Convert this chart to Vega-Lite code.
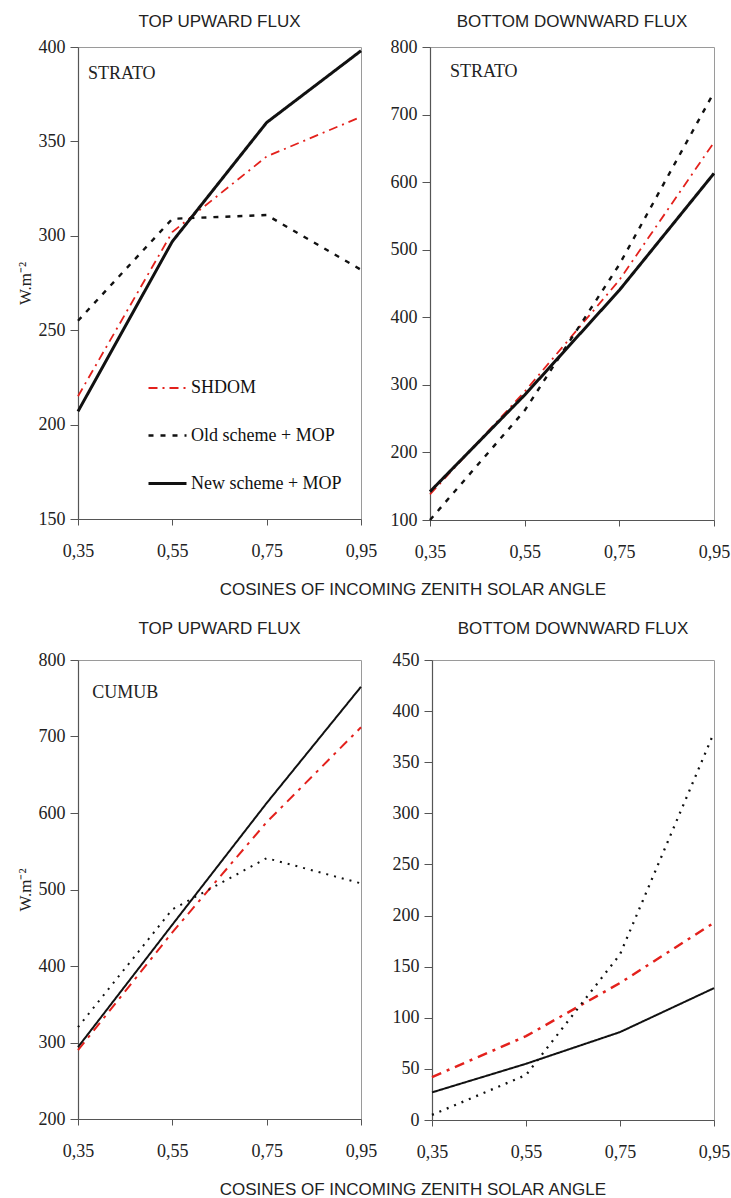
{
  "$schema": "https://vega.github.io/schema/vega-lite/v6.json",
  "background": "white",
  "padding": {"left": 15, "top": 12, "right": 0, "bottom": 0},
  "datasets": {
    "flux": [
      {"panel": "A", "series": "SHDOM", "cos": 0.35, "flux": 215},
      {"panel": "A", "series": "SHDOM", "cos": 0.55, "flux": 302},
      {"panel": "A", "series": "SHDOM", "cos": 0.75, "flux": 342},
      {"panel": "A", "series": "SHDOM", "cos": 0.95, "flux": 363},
      {"panel": "A", "series": "Old scheme + MOP", "cos": 0.35, "flux": 255},
      {"panel": "A", "series": "Old scheme + MOP", "cos": 0.55, "flux": 309},
      {"panel": "A", "series": "Old scheme + MOP", "cos": 0.75, "flux": 311},
      {"panel": "A", "series": "Old scheme + MOP", "cos": 0.95, "flux": 282},
      {"panel": "A", "series": "New scheme + MOP", "cos": 0.35, "flux": 207},
      {"panel": "A", "series": "New scheme + MOP", "cos": 0.55, "flux": 297},
      {"panel": "A", "series": "New scheme + MOP", "cos": 0.75, "flux": 360},
      {"panel": "A", "series": "New scheme + MOP", "cos": 0.95, "flux": 398},
      {"panel": "B", "series": "SHDOM", "cos": 0.35, "flux": 138},
      {"panel": "B", "series": "SHDOM", "cos": 0.55, "flux": 290},
      {"panel": "B", "series": "SHDOM", "cos": 0.75, "flux": 455},
      {"panel": "B", "series": "SHDOM", "cos": 0.95, "flux": 659},
      {"panel": "B", "series": "Old scheme + MOP", "cos": 0.35, "flux": 100},
      {"panel": "B", "series": "Old scheme + MOP", "cos": 0.55, "flux": 262},
      {"panel": "B", "series": "Old scheme + MOP", "cos": 0.75, "flux": 478},
      {"panel": "B", "series": "Old scheme + MOP", "cos": 0.95, "flux": 733},
      {"panel": "B", "series": "New scheme + MOP", "cos": 0.35, "flux": 142},
      {"panel": "B", "series": "New scheme + MOP", "cos": 0.55, "flux": 285},
      {"panel": "B", "series": "New scheme + MOP", "cos": 0.75, "flux": 440},
      {"panel": "B", "series": "New scheme + MOP", "cos": 0.95, "flux": 613},
      {"panel": "C", "series": "SHDOM", "cos": 0.35, "flux": 290},
      {"panel": "C", "series": "SHDOM", "cos": 0.55, "flux": 444},
      {"panel": "C", "series": "SHDOM", "cos": 0.75, "flux": 588},
      {"panel": "C", "series": "SHDOM", "cos": 0.95, "flux": 712},
      {"panel": "C", "series": "Old scheme + MOP", "cos": 0.35, "flux": 320},
      {"panel": "C", "series": "Old scheme + MOP", "cos": 0.55, "flux": 474},
      {"panel": "C", "series": "Old scheme + MOP", "cos": 0.75, "flux": 541},
      {"panel": "C", "series": "Old scheme + MOP", "cos": 0.95, "flux": 508},
      {"panel": "C", "series": "New scheme + MOP", "cos": 0.35, "flux": 294},
      {"panel": "C", "series": "New scheme + MOP", "cos": 0.55, "flux": 454},
      {"panel": "C", "series": "New scheme + MOP", "cos": 0.75, "flux": 613},
      {"panel": "C", "series": "New scheme + MOP", "cos": 0.95, "flux": 765},
      {"panel": "D", "series": "SHDOM", "cos": 0.35, "flux": 42},
      {"panel": "D", "series": "SHDOM", "cos": 0.55, "flux": 82},
      {"panel": "D", "series": "SHDOM", "cos": 0.75, "flux": 134},
      {"panel": "D", "series": "SHDOM", "cos": 0.95, "flux": 193},
      {"panel": "D", "series": "Old scheme + MOP", "cos": 0.35, "flux": 5},
      {"panel": "D", "series": "Old scheme + MOP", "cos": 0.55, "flux": 44},
      {"panel": "D", "series": "Old scheme + MOP", "cos": 0.75, "flux": 162},
      {"panel": "D", "series": "Old scheme + MOP", "cos": 0.95, "flux": 379},
      {"panel": "D", "series": "New scheme + MOP", "cos": 0.35, "flux": 27},
      {"panel": "D", "series": "New scheme + MOP", "cos": 0.55, "flux": 55},
      {"panel": "D", "series": "New scheme + MOP", "cos": 0.75, "flux": 86},
      {"panel": "D", "series": "New scheme + MOP", "cos": 0.95, "flux": 129}
    ]
  },
  "config": {
    "view": {"stroke": "#9a9a9a", "strokeWidth": 1},
    "axis": {
      "grid": false,
      "domainColor": "#555",
      "domainWidth": 1.2,
      "tickColor": "#555",
      "labelFont": "Liberation Serif",
      "labelFontSize": 18,
      "labelColor": "#222",
      "titleFont": "Liberation Serif",
      "titleFontSize": 17,
      "titleFontWeight": "normal",
      "titleColor": "#222",
      "zindex": 1
    },
    "axisX": {"tickSize": 6, "labelPadding": 17, "labelFlush": false, "labelOverlap": false},
    "axisY": {"tickSize": 8, "labelPadding": 5, "labelFlush": false, "labelOverlap": false},
    "title": {"font": "Liberation Sans", "fontSize": 17, "fontWeight": "normal", "color": "#222"}
  },
  "spacing": 21,
  "resolve": {"scale": {"x": "independent", "y": "independent", "color": "independent", "strokeDash": "independent", "strokeWidth": "independent"}},
  "vconcat": [
    {
      "spacing": 11,
      "title": {"text": "COSINES OF INCOMING ZENITH SOLAR ANGLE", "orient": "bottom", "anchor": "middle", "offset": 20, "baseline": "top", "dx": 40},
      "resolve": {"scale": {"x": "independent", "y": "independent", "color": "independent", "strokeDash": "independent", "strokeWidth": "independent"}},
      "hconcat": [
        {
          "width": 283,
          "height": 472,
          "title": {"text": "TOP UPWARD FLUX", "offset": 7.5},
          "layer": [
            {
              "data": {"name": "flux"},
              "transform": [{"filter": "datum.panel == 'A'"}],
              "mark": {"type": "line"},
              "encoding": {
                "x": {"field": "cos", "type": "quantitative", "scale": {"domain": [0.35, 0.95], "nice": false, "zero": false},
                  "axis": {"title": null, "values": [0.35, 0.55, 0.75, 0.95], "labelExpr": "replace(format(datum.value, '.2f'), '.', ',')"}},
                "y": {"field": "flux", "type": "quantitative", "scale": {"domain": [150, 400], "nice": false, "zero": false},
                  "axis": {"title": "W.m⁻²", "values": [150, 200, 250, 300, 350, 400], "titlePadding": 4}},
                "color": {"field": "series", "type": "nominal",
                  "scale": {"domain": ["SHDOM", "Old scheme + MOP", "New scheme + MOP"], "range": ["#e3211c", "#111111", "#111111"]},
                  "legend": {"title": null, "orient": "none", "legendX": 69, "legendY": 321, "symbolType": "stroke", "symbolSize": 1444, "labelFont": "Liberation Serif", "labelFontSize": 18, "labelColor": "#111", "rowPadding": 18, "labelOffset": 3}},
                "strokeDash": {"field": "series", "type": "nominal",
                  "scale": {"domain": ["SHDOM", "Old scheme + MOP", "New scheme + MOP"], "range": [[9, 5, 2, 5], [5, 7], [1, 0]]}},
                "strokeWidth": {"field": "series", "type": "nominal",
                  "scale": {"domain": ["SHDOM", "Old scheme + MOP", "New scheme + MOP"], "range": [1.8, 3, 2.2]}}
              }
            },
            {
              "data": {"values": [{}]},
              "mark": {"type": "text", "text": "STRATO", "align": "left", "baseline": "alphabetic", "font": "Liberation Serif", "fontSize": 18, "color": "#222"},
              "encoding": {"x": {"datum": 0.371, "type": "quantitative"}, "y": {"datum": 383, "type": "quantitative"}}
            }
          ]
        },
        {
          "width": 284,
          "height": 473,
          "title": {"text": "BOTTOM DOWNWARD FLUX", "offset": 7.5},
          "layer": [
            {
              "data": {"name": "flux"},
              "transform": [{"filter": "datum.panel == 'B'"}],
              "mark": {"type": "line"},
              "encoding": {
                "x": {"field": "cos", "type": "quantitative", "scale": {"domain": [0.35, 0.95], "nice": false, "zero": false},
                  "axis": {"title": null, "values": [0.35, 0.55, 0.75, 0.95], "labelExpr": "replace(format(datum.value, '.2f'), '.', ',')"}},
                "y": {"field": "flux", "type": "quantitative", "scale": {"domain": [100, 800], "nice": false, "zero": false},
                  "axis": {"title": null, "values": [100, 200, 300, 400, 500, 600, 700, 800]}},
                "color": {"field": "series", "type": "nominal", "legend": null,
                  "scale": {"domain": ["SHDOM", "Old scheme + MOP", "New scheme + MOP"], "range": ["#e3211c", "#111111", "#111111"]}},
                "strokeDash": {"field": "series", "type": "nominal", "legend": null,
                  "scale": {"domain": ["SHDOM", "Old scheme + MOP", "New scheme + MOP"], "range": [[9, 5, 2, 5], [5, 7], [1, 0]]}},
                "strokeWidth": {"field": "series", "type": "nominal", "legend": null,
                  "scale": {"domain": ["SHDOM", "Old scheme + MOP", "New scheme + MOP"], "range": [1.8, 3, 2.2]}}
              }
            },
            {
              "data": {"values": [{}]},
              "mark": {"type": "text", "text": "STRATO", "align": "left", "baseline": "alphabetic", "font": "Liberation Serif", "fontSize": 18, "color": "#222"},
              "encoding": {"x": {"datum": 0.392, "type": "quantitative"}, "y": {"datum": 756, "type": "quantitative"}}
            }
          ]
        }
      ]
    },
    {
      "spacing": 13,
      "title": {"text": "COSINES OF INCOMING ZENITH SOLAR ANGLE", "orient": "bottom", "anchor": "middle", "offset": 20, "baseline": "top", "dx": 40},
      "resolve": {"scale": {"x": "independent", "y": "independent", "color": "independent", "strokeDash": "independent", "strokeWidth": "independent"}},
      "hconcat": [
        {
          "width": 283,
          "height": 459,
          "title": {"text": "TOP UPWARD FLUX", "offset": 13},
          "layer": [
            {
              "data": {"name": "flux"},
              "transform": [{"filter": "datum.panel == 'C'"}],
              "mark": {"type": "line"},
              "encoding": {
                "x": {"field": "cos", "type": "quantitative", "scale": {"domain": [0.35, 0.95], "nice": false, "zero": false},
                  "axis": {"title": null, "values": [0.35, 0.55, 0.75, 0.95], "labelExpr": "replace(format(datum.value, '.2f'), '.', ',')"}},
                "y": {"field": "flux", "type": "quantitative", "scale": {"domain": [200, 800], "nice": false, "zero": false},
                  "axis": {"title": "W.m⁻²", "values": [200, 300, 400, 500, 600, 700, 800], "titlePadding": 4}},
                "color": {"field": "series", "type": "nominal", "legend": null,
                  "scale": {"domain": ["SHDOM", "Old scheme + MOP", "New scheme + MOP"], "range": ["#e3211c", "#111111", "#111111"]}},
                "strokeDash": {"field": "series", "type": "nominal", "legend": null,
                  "scale": {"domain": ["SHDOM", "Old scheme + MOP", "New scheme + MOP"], "range": [[10, 6, 3, 6], [2, 6], [1, 0]]}},
                "strokeWidth": {"field": "series", "type": "nominal", "legend": null,
                  "scale": {"domain": ["SHDOM", "Old scheme + MOP", "New scheme + MOP"], "range": [2, 2, 2.2]}}
              }
            },
            {
              "data": {"values": [{}]},
              "mark": {"type": "text", "text": "CUMUB", "align": "left", "baseline": "alphabetic", "font": "Liberation Serif", "fontSize": 18, "color": "#222"},
              "encoding": {"x": {"datum": 0.38, "type": "quantitative"}, "y": {"datum": 750, "type": "quantitative"}}
            }
          ]
        },
        {
          "width": 282,
          "height": 460,
          "title": {"text": "BOTTOM DOWNWARD FLUX", "offset": 13},
          "layer": [
            {
              "data": {"name": "flux"},
              "transform": [{"filter": "datum.panel == 'D'"}],
              "mark": {"type": "line"},
              "encoding": {
                "x": {"field": "cos", "type": "quantitative", "scale": {"domain": [0.35, 0.95], "nice": false, "zero": false},
                  "axis": {"title": null, "values": [0.35, 0.55, 0.75, 0.95], "labelExpr": "replace(format(datum.value, '.2f'), '.', ',')"}},
                "y": {"field": "flux", "type": "quantitative", "scale": {"domain": [0, 450], "nice": false, "zero": false},
                  "axis": {"title": null, "values": [0, 50, 100, 150, 200, 250, 300, 350, 400, 450]}},
                "color": {"field": "series", "type": "nominal", "legend": null,
                  "scale": {"domain": ["SHDOM", "Old scheme + MOP", "New scheme + MOP"], "range": ["#e3211c", "#111111", "#111111"]}},
                "strokeDash": {"field": "series", "type": "nominal", "legend": null,
                  "scale": {"domain": ["SHDOM", "Old scheme + MOP", "New scheme + MOP"], "range": [[10, 6, 3, 6], [2, 6], [1, 0]]}},
                "strokeWidth": {"field": "series", "type": "nominal", "legend": null,
                  "scale": {"domain": ["SHDOM", "Old scheme + MOP", "New scheme + MOP"], "range": [2.5, 2, 2.2]}}
              }
            }
          ]
        }
      ]
    }
  ]
}
